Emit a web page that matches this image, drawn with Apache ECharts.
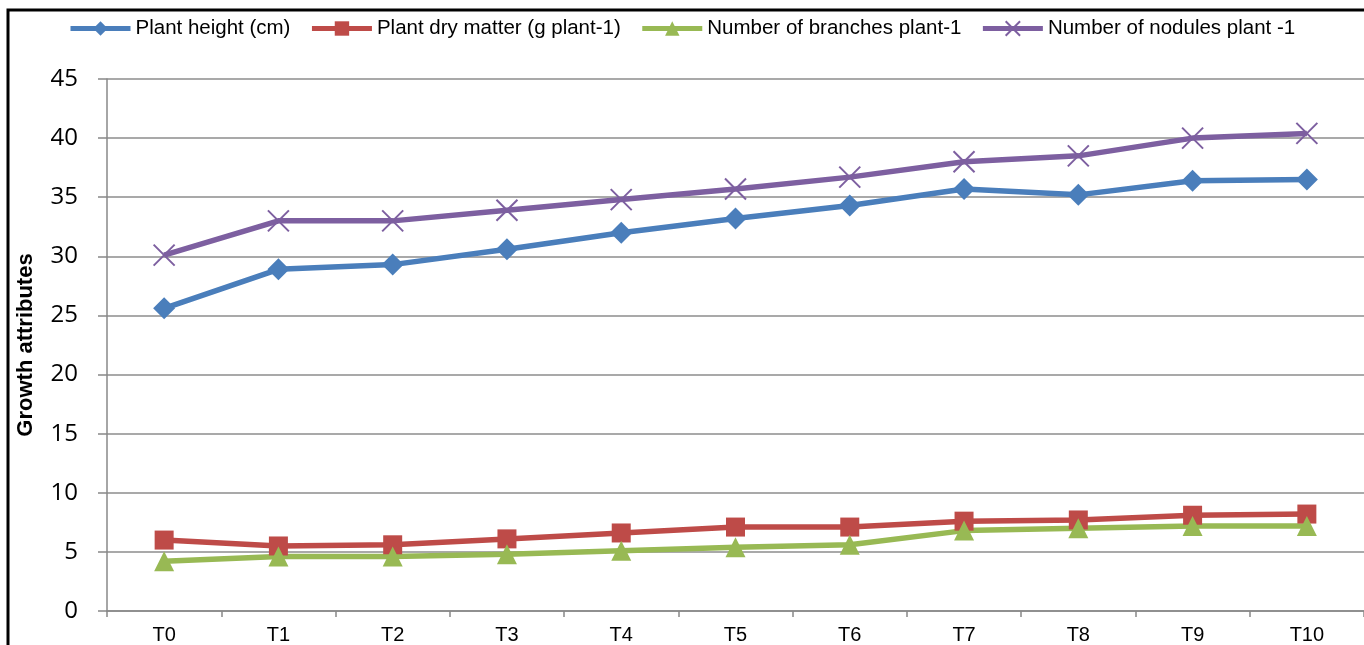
<!DOCTYPE html>
<html><head><meta charset="utf-8">
<script src="https://cdn.jsdelivr.net/npm/echarts@6/dist/echarts.min.js"></script>
<style>html,body{margin:0;padding:0;background:#fff}#c{width:1364px;height:645px}</style>
</head><body><div id="c"></div>
<script>
var categories = ['T0','T1','T2','T3','T4','T5','T6','T7','T8','T9','T10'];
var plantHeight = [25.6, 28.9, 29.3, 30.6, 32.0, 33.2, 34.3, 35.7, 35.2, 36.4, 36.5];
var dryMatter = [6.0, 5.5, 5.6, 6.1, 6.6, 7.1, 7.1, 7.6, 7.7, 8.1, 8.2];
var branches = [4.2, 4.6, 4.6, 4.8, 5.1, 5.4, 5.6, 6.8, 7.0, 7.2, 7.2];
var nodules = [30.1, 33.0, 33.0, 33.9, 34.8, 35.7, 36.7, 38.0, 38.5, 40.0, 40.4];
var yTicks = {min: 0, max: 45, interval: 5};

var chart = echarts.init(document.getElementById('c'));
function s(name, data, color, symbol, size, extra) {
  return Object.assign({
    name: name, type: 'line', data: data, symbol: symbol, symbolSize: size,
    lineStyle: {color: color, width: 5.5},
    itemStyle: {color: color},
    emphasis: {disabled: true}, animation: false
  }, extra || {});
}
chart.setOption({
  animation: false,
  graphic: [{type: 'rect', shape: {x: 8, y: 10, width: 1400, height: 700},
    style: {fill: 'none', stroke: '#000', lineWidth: 3}, silent: true}],
  legend: {
    left: 63, top: 13, itemWidth: 60, itemHeight: 18, itemGap: 19,
    lineStyle: {width: 5},
    textStyle: {fontFamily: 'Liberation Sans, Arial', fontSize: 20.5, color: '#000'},
    data: ['Plant height (cm)', 'Plant dry matter (g plant-1)', 'Number of branches plant-1', 'Number of nodules plant -1']
  },
  grid: {left: 107, right: 0, top: 79, bottom: 34},
  xAxis: {
    type: 'category', data: categories, boundaryGap: true,
    axisLine: {lineStyle: {color: '#888', width: 1.5}},
    axisTick: {show: true, length: 6, lineStyle: {color: '#888', width: 1.5}},
    axisLabel: {color: '#000', fontFamily: 'Liberation Sans, Arial', fontSize: 20, margin: 14}
  },
  yAxis: {
    type: 'value', min: yTicks.min, max: yTicks.max, interval: yTicks.interval,
    name: 'Growth attributes', nameLocation: 'middle', nameGap: 70,
    nameTextStyle: {color: '#000', fontFamily: 'Liberation Sans, Arial', fontSize: 22, fontWeight: 'bold'},
    axisLine: {show: true, lineStyle: {color: '#888', width: 1.5}},
    axisTick: {show: true, length: 9, lineStyle: {color: '#888', width: 1.5}},
    axisLabel: {color: '#000', fontFamily: 'Open Sans, Noto Sans', fontSize: 24, margin: 29},
    splitLine: {lineStyle: {color: '#8c8c8c', width: 1.5}}
  },
  series: [
    s('Plant height (cm)', plantHeight, '#4a7ebb', 'diamond', 22),
    s('Plant dry matter (g plant-1)', dryMatter, '#be4b48', 'rect', 19),
    s('Number of branches plant-1', branches, '#98b954', 'triangle', 20),
    s('Number of nodules plant -1', nodules, '#7d5fa0', 'path://M0,0 L10,10 M10,0 L0,10', 21,
      {itemStyle: {color: '#7d5fa0', borderColor: '#7d5fa0', borderWidth: 2}})
  ]
});
</script></body></html>
